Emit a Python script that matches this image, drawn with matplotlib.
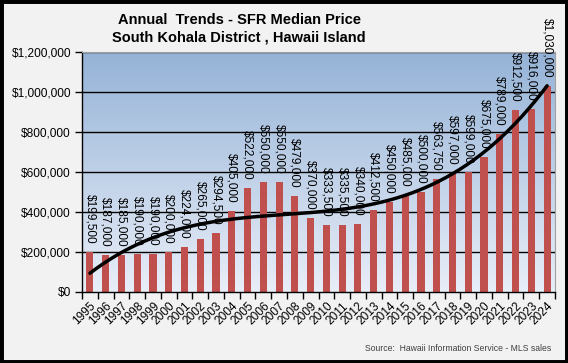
import numpy as np
import matplotlib.pyplot as plt
from matplotlib.colors import LinearSegmentedColormap
from matplotlib.patches import Rectangle

plt.rcParams['font.family'] = ['Liberation Sans', 'DejaVu Sans']

years = list(range(1995, 2025))
prices = [199500, 187000, 185000, 190000, 190000, 200000, 224000, 265000,
          294500, 405000, 522000, 550000, 550000, 479000, 370000, 333500,
          335500, 340000, 412500, 450000, 485000, 500000, 563750, 597000,
          599000, 675000, 789000, 912500, 916000, 1030000]

fig = plt.figure(figsize=(5.68, 3.63), dpi=100, facecolor='#f2f2f2')
ax = fig.add_axes([0.1444, 0.1956, 0.8327, 0.6611])

x = np.arange(len(years))
ax.set_xlim(-0.5, len(years) - 0.5)
ax.set_ylim(0, 1200000)

# gradient plot background
cmap = LinearSegmentedColormap.from_list('bg', ['#e9eef8', '#95b3d7'])
grad = np.linspace(0, 1, 256).reshape(-1, 1)
ax.imshow(grad, aspect='auto', cmap=cmap, origin='lower',
          extent=[0, 1, 0, 1], transform=ax.transAxes, zorder=0)

for v in range(200000, 1200001, 200000):
    ax.axhline(v, color='black', lw=1, zorder=1)

ax.bar(x, prices, width=0.45, color='#c0504d', zorder=2)

for xi, p in zip(x, prices):
    ax.annotate('${:,}'.format(p), (xi, p), xytext=(0, 6),
                textcoords='offset points', rotation=270,
                ha='center', va='bottom', fontsize=8.6,
                annotation_clip=False, zorder=4)

# polynomial trendline
coef = np.polyfit(x, prices, 3)
xs = np.linspace(0, len(years) - 1, 200)
ax.plot(xs, np.polyval(coef, xs), color='black', lw=2.5, zorder=3,
        solid_capstyle='round')

ax.set_yticks(range(0, 1200001, 200000))
ax.set_yticklabels(['$0'] + ['${:,}'.format(v) for v in range(200000, 1200001, 200000)],
                   fontsize=8.6)
ax.set_xticks(x)
ax.set_xticklabels([str(y) for y in years], rotation=45, ha='right',
                   rotation_mode='anchor', fontsize=8.6)
ax.set_xticks(np.arange(-0.5, len(years)), minor=True)
ax.tick_params(axis='x', which='major', length=0, pad=6)
ax.tick_params(axis='x', which='minor', length=5, width=1, direction='out')
ax.tick_params(axis='y', length=5, width=1, direction='out', pad=3)

for s in ['top', 'right']:
    ax.spines[s].set_color('#a0a0a0')
    ax.spines[s].set_linewidth(0.8)
for s in ['left', 'bottom']:
    ax.spines[s].set_color('black')
    ax.spines[s].set_linewidth(1)

fig.text(239 / 568, 1 - 24 / 363, 'Annual  Trends - SFR Median Price',
         ha='center', va='baseline', fontsize=10.5, fontweight='bold')
fig.text(239 / 568, 1 - 42 / 363, 'South Kohala District , Hawaii Island',
         ha='center', va='baseline', fontsize=10.5, fontweight='bold')
fig.text(551 / 568, 1 - 351 / 363, 'Source:  Hawaii Information Service - MLS sales',
         ha='right', va='baseline', fontsize=6.2, color='#404040')

fig.patches.append(Rectangle((0, 0), 1, 1, transform=fig.transFigure,
                             fill=False, edgecolor='black', lw=5))

fig.savefig('out.png', dpi=100, facecolor=fig.get_facecolor())
